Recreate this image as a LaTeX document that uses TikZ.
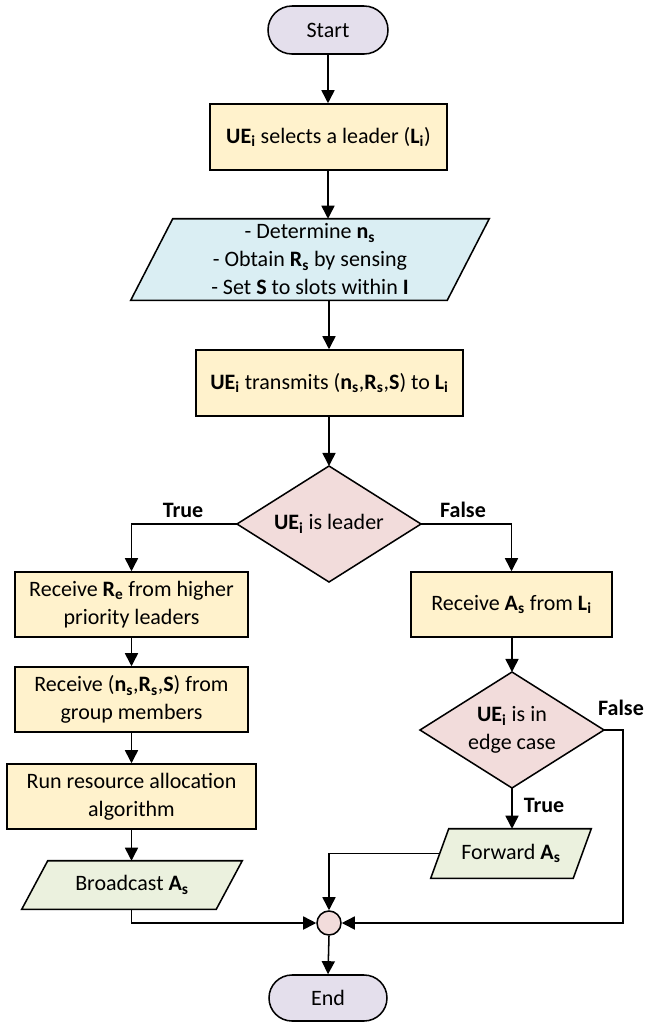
\documentclass[tikz,border=0pt]{standalone}
\usepackage{fontspec}
\setmainfont{Carlito}
\usetikzlibrary{shapes.misc,arrows.meta,calc,backgrounds}
\definecolor{cpurple}{HTML}{E4DFEC}
\definecolor{cyellow}{HTML}{FFF2CC}
\definecolor{cblue}{HTML}{DAEEF3}
\definecolor{cred}{HTML}{F2DCDB}
\definecolor{cgreen}{HTML}{EBF1DE}
\newcommand\bsb[2]{\textbf{#1\textsubscript{#2}}}
\newcommand\fsz{\fontsize{16.5}{21}\selectfont}
\begin{document}
\begin{tikzpicture}[x=0.75pt,y=-0.75pt,
  sz/.style 2 args={minimum width=#1*0.75pt, minimum height=#2*0.75pt},
  box/.style={draw=black, fill=cyellow, line width=1.15pt, align=center, inner sep=0pt, font=\fsz},
  term/.style={shape=rounded rectangle, draw=black, fill=cpurple, line width=1.15pt, inner sep=0pt, font=\fsz},
  txt/.style={align=center, inner sep=0pt, font=\fsz},
  shp/.style={draw=black, line width=1.15pt, line join=miter},
  lbl/.style={inner sep=0pt, font=\fsz\bfseries},
  arr/.style={line width=1.15pt, -{Triangle[length=9.8pt,width=9.8pt]}},
  ln/.style={line width=1.15pt}
]
\useasboundingbox (0,0) rectangle (646,1022);

% nodes
\node[term, sz={120}{48}] (start) at (328,30) {Start};
\node[box, sz={237}{66}] (b1) at (328.5,137) {\bsb{UE}{i} selects a leader (\bsb{L}{i})};
\node[txt, sz={358}{81}] (p1) at (310,259.5) {- Determine \bsb{n}{s}\\- Obtain \bsb{R}{s} by sensing\\- Set \textbf{S} to slots within \textbf{I}};
\node[box, sz={267}{66}] (b2) at (329.5,383) {\bsb{UE}{i} transmits (\bsb{n}{s},\bsb{R}{s},\textbf{S}) to \bsb{L}{i}};
\node[txt] (d1) at (329,524) {\bsb{UE}{i} is leader};
\coordinate (d1n) at (329,466);
\coordinate (d1s) at (329,582);
\coordinate (d1w) at (237,524);
\coordinate (d1e) at (421,524);
\node[box, sz={233}{65}] (b3) at (131.5,604.5) {Receive \bsb{R}{e} from higher\\priority leaders};
\node[box, sz={233}{65}] (b4) at (131.5,699.5) {Receive (\bsb{n}{s},\bsb{R}{s},\textbf{S}) from\\group members};
\node[box, sz={249}{65}] (b5) at (131.5,796.5) {Run resource allocation\\algorithm};
\node[txt, sz={220}{48}] (bc) at (132,885) {Broadcast \bsb{A}{s}};
\node[box, sz={201}{65}] (b6) at (511.5,604.5) {Receive \bsb{A}{s} from \bsb{L}{i}};
\node[txt] (d2) at (512,730) {\bsb{UE}{i} is in\\edge case};
\coordinate (d2n) at (512,672);
\coordinate (d2s) at (512,788);
\coordinate (d2w) at (420,730);
\coordinate (d2e) at (604,730);
\node[txt, sz={160}{49}] (fw) at (511,853.5) {Forward \bsb{A}{s}};
\coordinate (fwl) at (440,853.5);
\node[circle, draw=black, fill=cred, line width=1.15pt, minimum size=24*0.75pt, inner sep=0pt] (j) at (329,923) {};
\node[term, sz={118}{46}] (end) at (328,998) {End};
\coordinate (rt) at (623,730);

% labels
\node[lbl] (lt1) at (183,510) {True};
\node[lbl] (lf1) at (463,510) {False};
\node[lbl] (lf2) at (621,708) {False};
\node[lbl] (lt2) at (544,805) {True};

% shapes behind text
\begin{scope}[on background layer]
\path[shp, fill=cblue] ($(p1.north west)+(42,0)$) -- (p1.north east) -- ($(p1.south east)+(-42,0)$) -- (p1.south west) -- cycle;
\path[shp, fill=cred] (d1n) -- (d1e) -- (d1s) -- (d1w) -- cycle;
\path[shp, fill=cred] (d2n) -- (d2e) -- (d2s) -- (d2w) -- cycle;
\path[shp, fill=cgreen] ($(bc.north west)+(26,0)$) -- (bc.north east) -- ($(bc.south east)+(-26,0)$) -- (bc.south west) -- cycle;
\path[shp, fill=cgreen] ($(fw.north west)+(18,0)$) -- (fw.north east) -- ($(fw.south east)+(-18,0)$) -- (fw.south west) -- cycle;
\end{scope}

% connectors
\draw[arr] (start.south) -- (start.south |- b1.north);
\draw[arr] (start.south |- b1.south) -- (start.south |- p1.north);
\draw[arr] (p1.south -| d1n) -- (b2.north -| d1n);
\draw[arr] (b2.south -| d1n) -- (d1n);
\draw[arr] (d1w) -| (b3.north);
\draw[arr] (d1e) -| (b6.north);
\draw[arr] (b3.south) -- (b4.north);
\draw[arr] (b4.south) -- (b5.north);
\draw[arr] (b5.south) -- (b5.south |- bc.north);
\draw[arr] (b6.south -| d2n) -- (d2n);
\draw[arr] (d2s) -- (d2s |- fw.north);
\draw[arr] (fwl) -| (j.north);
\draw[arr] (b5.south |- bc.south) |- (j.west);
\draw[arr] (d2e) -- (rt) |- (j.east);
\draw[arr] (j.south) -- (end.north);
\end{tikzpicture}
\end{document}
